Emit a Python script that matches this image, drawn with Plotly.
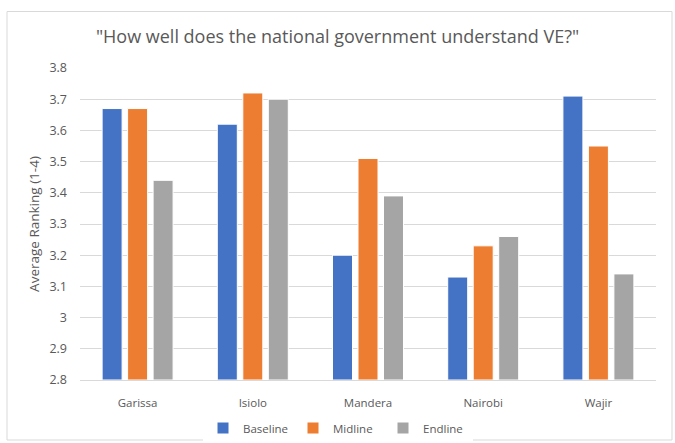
import plotly.graph_objects as go

categories = ["Garissa", "Isiolo", "Mandera", "Nairobi", "Wajir"]
baseline = [3.67, 3.62, 3.20, 3.13, 3.71]
midline = [3.67, 3.72, 3.51, 3.23, 3.55]
endline = [3.44, 3.70, 3.39, 3.26, 3.14]
series_names = ["Baseline", "Midline", "Endline"]
colors = ["#4472C4", "#ED7D31", "#A5A5A5"]
y_ticks = [2.8, 2.9, 3.0, 3.1, 3.2, 3.3, 3.4, 3.5, 3.6, 3.7, 3.8]
y_tick_labels = ["2.8", "2.9", "3", "3.1", "3.2", "3.3", "3.4", "3.5", "3.6", "3.7", "3.8"]

FONT = "Open Sans"
fig = go.Figure()
for name, vals, c in zip(series_names, [baseline, midline, endline], colors):
    fig.add_trace(go.Bar(
        x=categories, y=[v - 2.8 for v in vals], base=2.8, name=name,
        marker=dict(color=c, line=dict(color="white", width=1)),
    ))

W, H = 675, 443
l, r, t, b = 80, 19, 68, 63
pw, ph = W - l - r, H - t - b

def px(x):
    return (x - l) / pw

def py(y):
    return (H - b - y) / ph

fig.add_shape(type="rect", xref="paper", yref="paper",
              x0=px(7), x1=px(672), y0=py(440), y1=py(11.5),
              line=dict(color="#D9D9D9", width=1), fillcolor="rgba(0,0,0,0)", layer="below")

fig.update_layout(
    width=W, height=H,
    margin=dict(l=l, r=r, t=t, b=b, autoexpand=False),
    paper_bgcolor="white", plot_bgcolor="white",
    barmode="group", bargap=0.336, bargroupgap=0.216,
    font=dict(family=FONT, color="#595959", size=11),
    title=dict(text='"How well does the national government understand VE?"',
               x=0.5, xref="container", xanchor="center", y=1 - 37 / H, yanchor="middle",
               font=dict(family=FONT, size=18, color="#595959")),
    xaxis=dict(showgrid=False, showline=True, linecolor="#D9D9D9", linewidth=1,
               automargin=False,
               ticks="", ticklabelstandoff=12, tickfont=dict(size=11.5, color="#595959")),
    yaxis=dict(range=[2.8, 3.8], tickvals=y_ticks, ticktext=y_tick_labels,
               automargin=False,
               showgrid=True, gridcolor="#D9D9D9", gridwidth=1, zeroline=False,
               showline=False, ticks="", ticklabelstandoff=12,
               tickfont=dict(size=12.5, color="#595959"),
               title=dict(text="Average Ranking (1-4)", standoff=6,
                          font=dict(size=13.5, color="#595959"))),
    legend=dict(orientation="h", x=px(338), xanchor="center", y=py(428), yanchor="middle",
                font=dict(size=11.5, color="#595959"), itemwidth=30, entrywidth=45,
                traceorder="normal"),
)

fig.write_html("out.html")
